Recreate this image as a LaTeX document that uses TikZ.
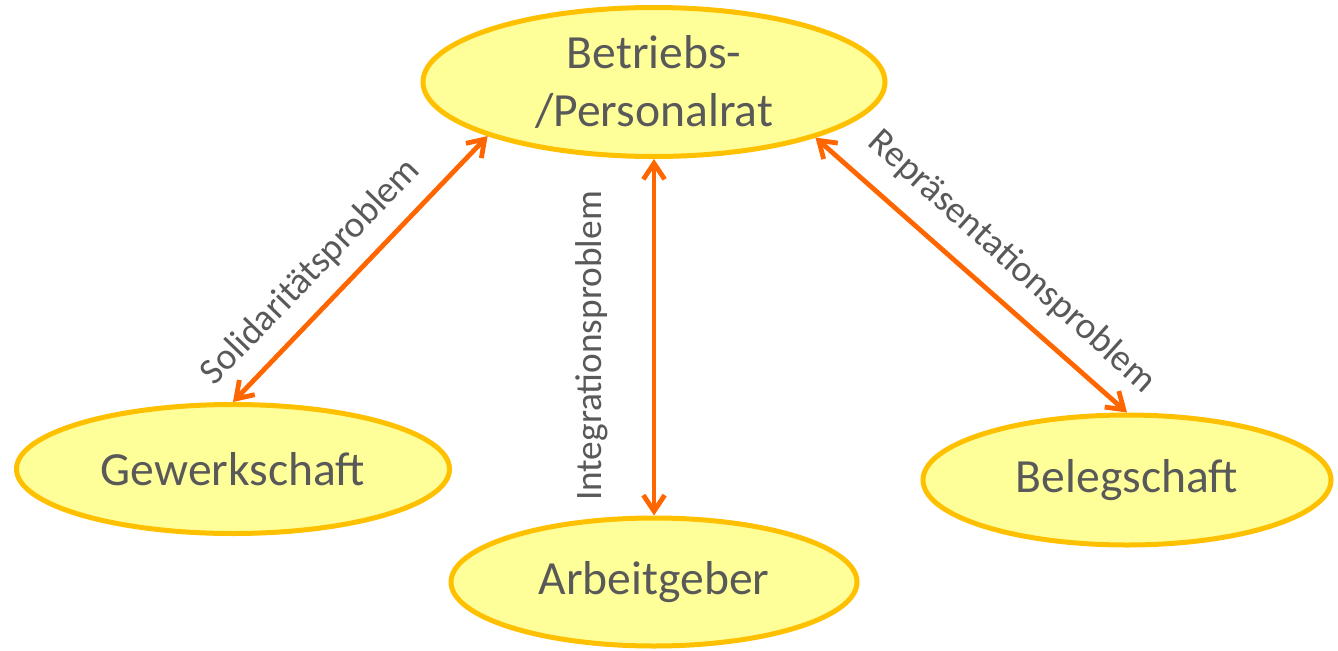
\documentclass[tikz,border=0pt]{standalone}
\usepackage{fontspec}
\setmainfont{Carlito}
\usetikzlibrary{shapes.geometric,arrows.meta}
\definecolor{fillY}{HTML}{FFFF99}
\definecolor{borderY}{HTML}{FFC000}
\definecolor{arrowO}{HTML}{FF6600}
\definecolor{txtG}{HTML}{595959}
\tikzset{
  party/.style={ellipse, draw=borderY, fill=fillY, line width=3.75pt, inner sep=0pt,
    text=txtG, align=center, font=\fontsize{35.7}{43.5}\selectfont},
  rel/.style={draw=arrowO, line width=3.6pt,
    {Straight Barb[length=12pt,width=16pt]}-{Straight Barb[length=12pt,width=16pt]}},
  rellabel/.style={text=txtG, font=\fontsize{28}{32}\selectfont, inner sep=0pt}
}
\begin{document}
\begin{tikzpicture}[x=0.75pt,y=-0.75pt]
\useasboundingbox (0,0) rectangle (1338,650);
\node[party, minimum width=346.5pt, minimum height=111.75pt] (br) at (654,82) {Betriebs-\\/Personalrat};
\node[party, minimum width=324.75pt, minimum height=96.75pt] (gw) at (233,469) {Gewerkschaft};
\node[party, minimum width=304.5pt, minimum height=96pt] (ag) at (654,582) {Arbeitgeber};
\node[party, minimum width=306pt, minimum height=97.5pt] (bs) at (1127,480) {Belegschaft};
\draw[rel] (gw.north) -- (br.198.6);
\draw[rel] (ag.north) -- (br.south);
\draw[rel] (bs.north) -- (br.341.4);
\node[rellabel, rotate=46] (l1) at (311,272) {Solidaritätsproblem};
\node[rellabel, rotate=90] (l2) at (592,346) {Integrationsproblem};
\node[rellabel, rotate=-42] (l3) at (1012,262) {Repräsentationsproblem};
\end{tikzpicture}
\end{document}
